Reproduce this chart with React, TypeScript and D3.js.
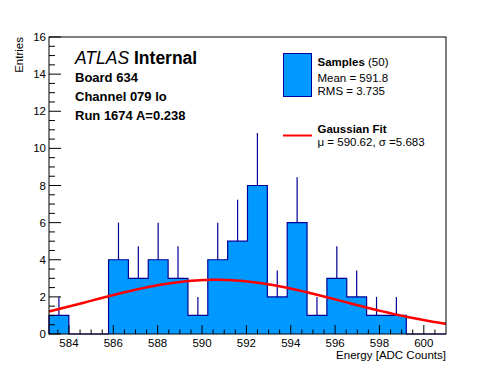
import React from 'react';
import * as d3 from 'd3';

// histogram: 20 equal bins between xMin and xMax
const xRange = [583.1, 601.0];
const binCounts = [1, 0, 0, 4, 3, 4, 3, 1, 4, 5, 8, 2, 6, 1, 3, 2, 1, 1, 0, 0];
const yRange = [0, 16];

// gaussian fit parameters (amplitude)
const fitMu = [590.62];
const fitSigma = [5.683];
const fitAmp = [2.92];

const infoLines = ['Board 634', 'Channel 079 lo', 'Run 1674 A=0.238'];
const statLines = ['Mean = 591.8', 'RMS = 3.735'];

const W = 496;
const H = 372;
const margin = { top: 37, right: 50, bottom: 38, left: 49 };
const font = 'Liberation Sans, Arial, Helvetica, sans-serif';

const App = () => {
  const x = d3.scaleLinear().domain(xRange).range([margin.left, W - margin.right]);
  const y = d3.scaleLinear().domain(yRange).range([H - margin.bottom, margin.top]);

  const nBins = binCounts.length;
  const binW = (xRange[1] - xRange[0]) / nBins;
  const edges = d3.range(nBins + 1).map(i => xRange[0] + i * binW);

  // step outline of the histogram
  const stepPts: [number, number][] = [[edges[0], 0]];
  binCounts.forEach((c, i) => {
    stepPts.push([edges[i], c]);
    stepPts.push([edges[i + 1], c]);
  });
  stepPts.push([edges[nBins], 0]);
  const histPath = d3.line<[number, number]>().x(d => x(d[0])).y(d => y(d[1]))(stepPts);

  // fit curve
  const fitXs = d3.range(0, 101).map(i => xRange[0] + (i / 100) * (xRange[1] - xRange[0]));
  const gauss = (v: number) => fitAmp[0] * Math.exp(-((v - fitMu[0]) ** 2) / (2 * fitSigma[0] ** 2));
  const fitPath = d3.line<number>().x(d => x(d)).y(d => y(gauss(d)))(fitXs);

  const xMajor = x.ticks(10);
  const xMinor = d3.range(Math.ceil(xRange[0] * 2) / 2, xRange[1], 0.5).filter(v => !xMajor.includes(v));
  const yMajor = y.ticks(8);
  const yMinor = y.ticks(32).filter(v => !yMajor.includes(v));

  const x0 = margin.left;
  const x1 = W - margin.right;
  const yb = H - margin.bottom;

  return (
    <svg width={W} height={H} style={{ position: 'absolute', left: 0, top: 0, background: '#fff' }} fontFamily={font}>
      <rect x={0} y={0} width={W} height={H} fill="#fff" />
      <path d={histPath || ''} fill="#0099ff" stroke="#000099" strokeWidth={1.2} />
      {binCounts.map((c, i) =>
        c > 0 ? (
          <line
            key={'e' + i}
            x1={x(edges[i] + binW / 2)}
            x2={x(edges[i] + binW / 2)}
            y1={y(c)}
            y2={y(c + Math.sqrt(c))}
            stroke="#000099"
            strokeWidth={1.2}
          />
        ) : null
      )}
      <path d={fitPath || ''} fill="none" stroke="#ff0000" strokeWidth={2.5} />

      {/* frame */}
      <rect x={x0} y={margin.top} width={x1 - x0} height={yb - margin.top} fill="none" stroke="#000" strokeWidth={1} />

      {/* y ticks */}
      {yMajor.map(v => (
        <g key={'ym' + v}>
          <line x1={x0} x2={x0 + 12} y1={y(v)} y2={y(v)} stroke="#000" />
          <text x={x0 - 3} y={y(v)} dy="0.35em" textAnchor="end" fontSize={11.5}>{v}</text>
        </g>
      ))}
      {yMinor.map(v => (
        <line key={'yn' + v} x1={x0} x2={x0 + 6} y1={y(v)} y2={y(v)} stroke="#000" />
      ))}

      {/* x ticks */}
      {xMajor.map(v => (
        <g key={'xm' + v}>
          <line x1={x(v)} x2={x(v)} y1={yb} y2={yb - 9} stroke="#000" />
          <text x={x(v)} y={yb + 13} textAnchor="middle" fontSize={11.5}>{v}</text>
        </g>
      ))}
      {xMinor.map(v => (
        <line key={'xn' + v} x1={x(v)} x2={x(v)} y1={yb} y2={yb - 4.5} stroke="#000" />
      ))}

      <text x={x1} y={yb + 25} textAnchor="end" fontSize={11.5}>Energy [ADC Counts]</text>
      <text transform={`translate(23,${margin.top}) rotate(-90)`} textAnchor="end" fontSize={11.5}>Entries</text>

      {/* labels */}
      <text x={75} y={63.5} fontSize={17.5}>
        <tspan fontStyle="italic">ATLAS</tspan>
        <tspan fontWeight="bold"> Internal</tspan>
      </text>
      {infoLines.map((t, i) => (
        <text key={t} x={75} y={81.5 + i * 19} fontSize={13} fontWeight="bold">{t}</text>
      ))}

      {/* legend */}
      <rect x={283.5} y={53.5} width={28} height={43} fill="#0099ff" stroke="#000099" strokeWidth={1} />
      <text x={317.5} y={65.5} fontSize={11.5}>
        <tspan fontWeight="bold">Samples</tspan>
        <tspan> (50)</tspan>
      </text>
      {statLines.map((t, i) => (
        <text key={t} x={317.5} y={81.5 + i * 13} fontSize={11.5}>{t}</text>
      ))}
      <line x1={283} x2={312} y1={135.5} y2={135.5} stroke="#ff0000" strokeWidth={2} />
      <text x={317.5} y={133} fontSize={11.5} fontWeight="bold">Gaussian Fit</text>
      <text x={317.5} y={146} fontSize={11.5}>μ = 590.62, σ =5.683</text>
    </svg>
  );
};

export default App;
